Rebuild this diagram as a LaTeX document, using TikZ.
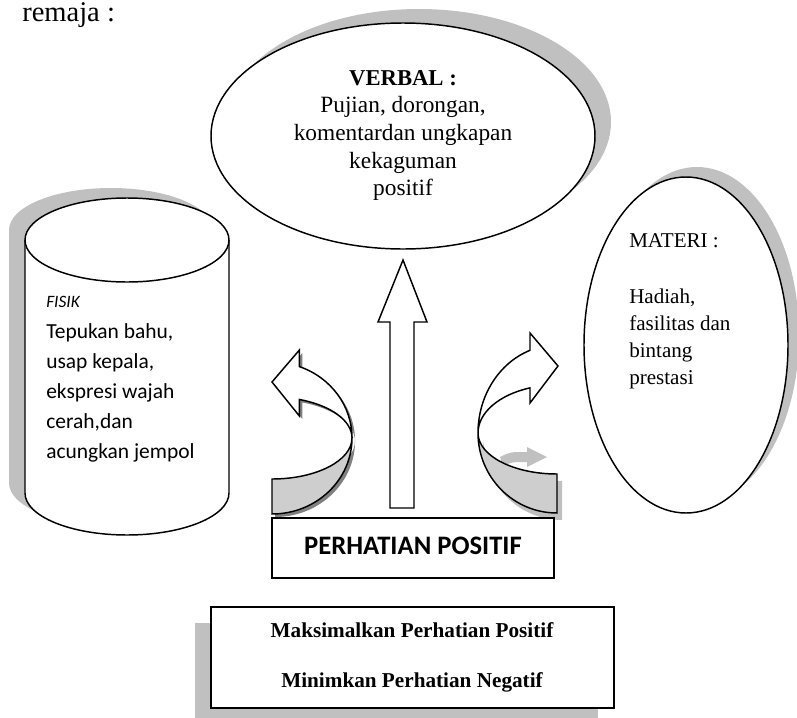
\documentclass[tikz,border=0pt]{standalone}
\usepackage{fontspec}
\setmainfont{Liberation Serif}
\newfontfamily\calfont{Carlito}
\usetikzlibrary{shapes.geometric}
\definecolor{shadowgray}{RGB}{192,192,192}
\definecolor{bandgray}{RGB}{206,206,206}
\definecolor{darkshadow}{RGB}{128,128,128}
\begin{document}
\begin{tikzpicture}[x=0.75pt,y=-0.75pt,
  outline/.style={draw=black,line width=1.1pt},
  boxline/.style={draw=black,line width=1.4pt},
  shade/.style={fill=shadowgray,draw=none},
  serifline/.style={font=\fontsize{17.5}{21}\selectfont,anchor=base,inner sep=0},
  materiline/.style={font=\fontsize{15.8}{19}\selectfont,anchor=base west,inner sep=0},
  fisikline/.style={font=\calfont\fontsize{16.1}{19}\selectfont,anchor=base west,inner sep=0},
  boldline/.style={font=\bfseries\fontsize{15.9}{19}\selectfont,anchor=base,inner sep=0}]
\useasboundingbox (0,0) rectangle (797,718);

% heading text
\node[anchor=base west,inner sep=0,font=\fontsize{21.4}{25}\selectfont] (remaja) at (22,21) {remaja :};

% ---------- VERBAL ellipse ----------
\node[ellipse,shade,minimum width=288pt,minimum height=169.5pt,inner sep=0] (verbalshadow) at (419,122) {};
\node[ellipse,outline,fill=white,minimum width=288pt,minimum height=169.5pt,inner sep=0] (verbal) at (403,136) {};
\node[serifline,font=\bfseries\fontsize{17}{21}\selectfont] (v1) at (403,85) {VERBAL :};
\node[serifline] (v2) at (403,112) {Pujian, dorongan,};
\node[serifline] (v3) at (403,140) {komentardan ungkapan};
\node[serifline] (v4) at (403,168) {kekaguman};
\node[serifline] (v5) at (403,195) {positif};

% ---------- MATERI ellipse ----------
\node[ellipse,shade,minimum width=153pt,minimum height=252pt,inner sep=0] (materishadow) at (697,335) {};
\node[ellipse,outline,fill=white,minimum width=153pt,minimum height=252pt,inner sep=0] (materi) at (686,345) {};
\node[materiline] (m1) at (629,247) {MATERI :};
\node[materiline] (m2) at (629,303) {Hadiah,};
\node[materiline] (m3) at (629,330) {fasilitas dan};
\node[materiline] (m4) at (629,357) {bintang};
\node[materiline] (m5) at (629,384) {prestasi};

% ---------- FISIK cylinder ----------
\begin{scope}[shift={(-16,-10)}]
\path[shade] (25,240) -- (25,493) arc[start angle=180,end angle=0,x radius=102,y radius=42]
  -- (229,240) arc[start angle=0,end angle=-180,x radius=102,y radius=42] -- cycle;
\end{scope}
\path[outline,fill=white] (25,240) -- (25,493) arc[start angle=180,end angle=0,x radius=102,y radius=42]
  -- (229,240) arc[start angle=0,end angle=-180,x radius=102,y radius=42] -- cycle;
\draw[outline] (25,240) arc[start angle=180,end angle=0,x radius=102,y radius=42];
\node[fisikline,font=\calfont\itshape\fontsize{13}{16}\selectfont] (f0) at (46,307) {FISIK};
\node[fisikline] (f1) at (46,338) {Tepukan bahu,};
\node[fisikline] (f2) at (46,368) {usap kepala,};
\node[fisikline] (f3) at (46,398) {ekspresi wajah};
\node[fisikline] (f4) at (46,428) {cerah,dan};
\node[fisikline] (f5) at (46,458) {acungkan jempol};

% ---------- left curved arrow ----------
\begin{scope}[shift={(3,3)}]
\path[fill=darkshadow] (272,382) -- (299.4,350) -- (299.4,366.6)
  arc[start angle=-70,end angle=90,x radius=80,y radius=76] -- (272,479)
  arc[start angle=90,end angle=-70,x radius=80,y radius=41] -- (299.4,416) -- cycle;
\end{scope}
\path[outline,fill=bandgray] (352,438) arc[start angle=0,end angle=90,x radius=80,y radius=76]
  -- (272,479) arc[start angle=90,end angle=0,x radius=80,y radius=41] -- cycle;
\path[outline,fill=white,line join=miter] (272,382) -- (299.4,350) -- (299.4,366.6)
  arc[start angle=-70,end angle=0,x radius=80,y radius=76]
  arc[start angle=0,end angle=-70,x radius=80,y radius=41] -- (299.4,416) -- cycle;

% ---------- right curved arrow ----------
\begin{scope}[shift={(5,7)}]
\path[shade] (478,433) arc[start angle=180,end angle=90,x radius=79,y radius=80]
  -- (557,474) arc[start angle=90,end angle=180,x radius=79,y radius=41] -- cycle;
\end{scope}
\path[shade] (500,457) .. controls (510,452) .. (527,452) -- (527,447) -- (547,457)
  -- (527,467) -- (527,462) .. controls (512,462) .. (503,466) -- cycle;
\path[outline,fill=bandgray] (478,433) arc[start angle=180,end angle=90,x radius=79,y radius=80]
  -- (557,474) arc[start angle=90,end angle=180,x radius=79,y radius=41] -- cycle;
\path[outline,fill=white,line join=miter] (558,366) -- (530,333) -- (530,350.3)
  arc[start angle=-110,end angle=-180,x radius=79,y radius=88]
  arc[start angle=180,end angle=250,x radius=79,y radius=48] -- (530,403) -- cycle;

% ---------- vertical arrow ----------
\path[outline,fill=white,line join=miter] (403,260) -- (427,322) -- (414,322) -- (414,508)
  -- (390,508) -- (390,322) -- (378,322) -- cycle;

% ---------- PERHATIAN POSITIF ----------
\node[boxline,fill=white,minimum width=211.5pt,minimum height=45pt,inner sep=0] (perhatian) at (413,548) {};
\node[anchor=base,inner sep=0,font=\calfont\bfseries\fontsize{20}{24}\selectfont] (ptext) at (413,554) {PERHATIAN POSITIF};

% ---------- bottom box ----------
\node[shade,minimum width=302.25pt,minimum height=75.75pt,inner sep=0] (boxshadow) at (396.5,673.5) {};
\node[boxline,fill=white,minimum width=302.25pt,minimum height=75.75pt,inner sep=0] (bottombox) at (412.5,657.5) {};
\node[boldline] (b1) at (412,637) {Maksimalkan Perhatian Positif};
\node[boldline] (b2) at (412,687) {Minimkan Perhatian Negatif};
\end{tikzpicture}
\end{document}
